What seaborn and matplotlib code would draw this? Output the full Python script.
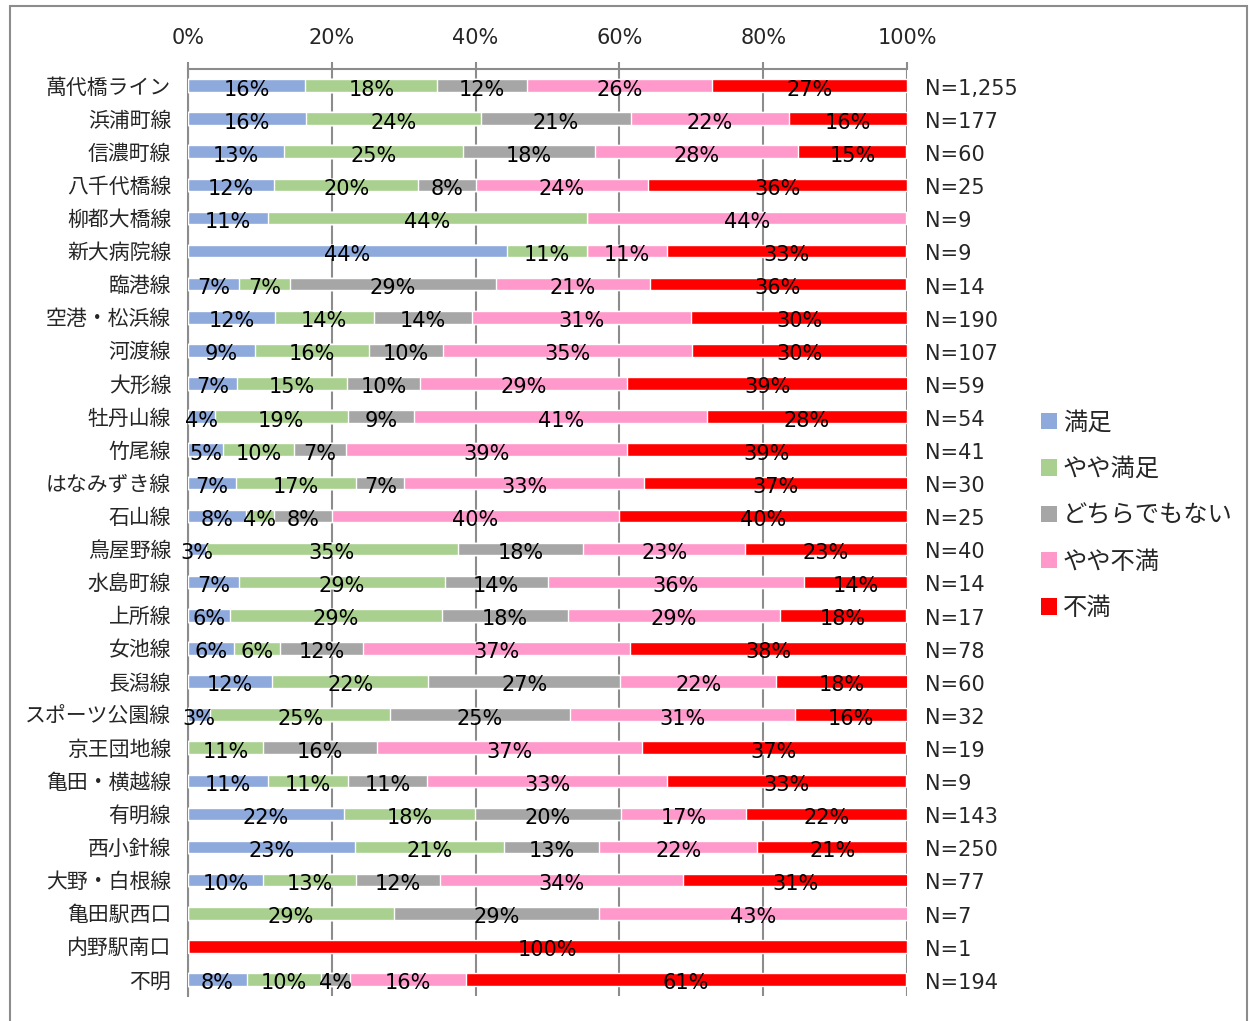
import numpy as np
import pandas as pd
import seaborn as sns
import matplotlib.pyplot as plt
from matplotlib.patches import Patch, Rectangle

routes = ["萬代橋ライン", "浜浦町線", "信濃町線", "八千代橋線", "柳都大橋線", "新大病院線",
          "臨港線", "空港・松浜線", "河渡線", "大形線", "牡丹山線", "竹尾線", "はなみずき線",
          "石山線", "鳥屋野線", "水島町線", "上所線", "女池線", "長潟線", "スポーツ公園線",
          "京王団地線", "亀田・横越線", "有明線", "西小針線", "大野・白根線", "亀田駅西口",
          "内野駅南口", "不明"]
n_labels = ["N=1,255", "N=177", "N=60", "N=25", "N=9", "N=9", "N=14", "N=190", "N=107",
            "N=59", "N=54", "N=41", "N=30", "N=25", "N=40", "N=14", "N=17", "N=78", "N=60",
            "N=32", "N=19", "N=9", "N=143", "N=250", "N=77", "N=7", "N=1", "N=194"]

# percentages per answer
manzoku = [16.3, 16.4, 13.3, 12, 11.1, 44.4, 7.1, 12.1, 9.3, 6.8, 3.7, 4.9, 6.7, 8, 2.5,
           7.1, 5.9, 6.4, 11.7, 3.1, 0, 11.1, 21.7, 23.2, 10.4, 0, 0, 8.2]
yaya_manzoku = [18.4, 24.3, 25, 20, 44.4, 11.1, 7.1, 13.7, 15.9, 15.3, 18.5, 9.8, 16.7, 4, 35,
                28.6, 29.4, 6.4, 21.7, 25, 10.5, 11.1, 18.2, 20.8, 13.0, 28.6, 0, 10.3]
dochira = [12.4, 20.9, 18.3, 8, 0, 0, 28.6, 13.7, 10.3, 10.2, 9.3, 7.3, 6.7, 8, 17.5,
           14.3, 17.6, 11.5, 26.7, 25, 15.8, 11.1, 20.3, 13.2, 11.7, 28.6, 0, 4.1]
yaya_fuman = [25.8, 22.0, 28.3, 24, 44.4, 11.1, 21.4, 30.5, 34.6, 28.8, 40.7, 39.0, 33.3, 40,
              22.5, 35.7, 29.4, 37.2, 21.7, 31.3, 36.8, 33.3, 17.4, 22.0, 33.8, 42.9, 0, 16.0]
fuman = [27.1, 16.4, 15, 36, 0, 33.3, 35.7, 30.0, 29.9, 39.0, 27.8, 39.0, 36.7, 40, 22.5,
         14.3, 17.6, 38.4, 18.3, 15.6, 36.8, 33.3, 22.4, 20.8, 31.2, 0, 100, 61.3]

answers = ["満足", "やや満足", "どちらでもない", "やや不満", "不満"]
colors = ["#8EA9DB", "#A9D08E", "#A6A6A6", "#FF99CC", "#FF0000"]

sns.set_style("white")
plt.rcParams['font.family'] = ['DejaVu Sans', 'Noto Sans CJK JP']
FS = 15
LFS = 17.5

df = pd.DataFrame({"route": routes, "満足": manzoku, "やや満足": yaya_manzoku,
                   "どちらでもない": dochira, "やや不満": yaya_fuman, "不満": fuman})
cum = df[answers].cumsum(axis=1)

fig = plt.figure(figsize=(12.49, 10.21), dpi=100)
ax = fig.add_axes([188 / 1249, 1 - 996 / 1021, (907 - 188) / 1249, (996 - 69) / 1021])

# draw from the longest cumulative bar back to the first segment
for ans, col in reversed(list(zip(answers, colors))):
    sns.barplot(x=cum[ans], y=df["route"], orient="h", color=col, width=0.38,
                saturation=1, ax=ax, zorder=3)

# percent labels
for i in range(len(routes)):
    for ans in answers:
        v = df.loc[i, ans]
        if v <= 0:
            continue
        mid = cum.loc[i, ans] - v / 2
        ax.text(mid, i + 0.12, f"{int(v + 0.5)}%", ha="center", va="center",
                fontsize=FS, color="black", zorder=5)
    ax.text(1.025, i + 0.1, n_labels[i], transform=ax.get_yaxis_transform(),
            ha="left", va="center", fontsize=FS)

ax.set_xlim(0, 100)
ax.set_ylim(len(routes) - 0.5, -0.5)
ax.set_xlabel("")
ax.set_ylabel("")
ax.xaxis.tick_top()
ax.set_xticks([0, 20, 40, 60, 80, 100])
ax.set_xticklabels([f"{t}%" for t in range(0, 101, 20)], fontsize=FS)
ax.tick_params(axis="x", length=5, width=1.5, color="#8C8C8C", pad=10, top=True, bottom=False)
ax.set_yticks(range(len(routes)))
ax.set_yticklabels(routes, fontsize=FS)
ax.set_yticks(np.arange(-0.5, len(routes)), minor=True)
ax.tick_params(axis="y", which="major", length=0, pad=12)
ax.tick_params(axis="y", which="minor", length=6, width=1.5, color="#8C8C8C")
ax.grid(axis="x", color="#8C8C8C", lw=1.5, zorder=0)
ax.set_axisbelow(True)
for s in ["right", "bottom"]:
    ax.spines[s].set_visible(False)
for s in ["top", "left"]:
    ax.spines[s].set_color("#8C8C8C")
    ax.spines[s].set_linewidth(1.5)

handles = [Patch(facecolor=c, edgecolor="none") for c in colors]
fig.legend(handles, answers, loc="upper left", bbox_to_anchor=(1031 / 1249, 1 - 401 / 1021),
           frameon=False, fontsize=LFS, handlelength=0.66, handleheight=0.66,
           handletextpad=0.25, labelspacing=0.92, borderaxespad=0)

fig.patches.append(Rectangle((10 / 1249, -0.01), 1237 / 1249, 1 - 6 / 1021 + 0.01,
                             transform=fig.transFigure, fill=False,
                             edgecolor="#8C8C8C", lw=1.5))

fig.savefig("out.png", dpi=100)
